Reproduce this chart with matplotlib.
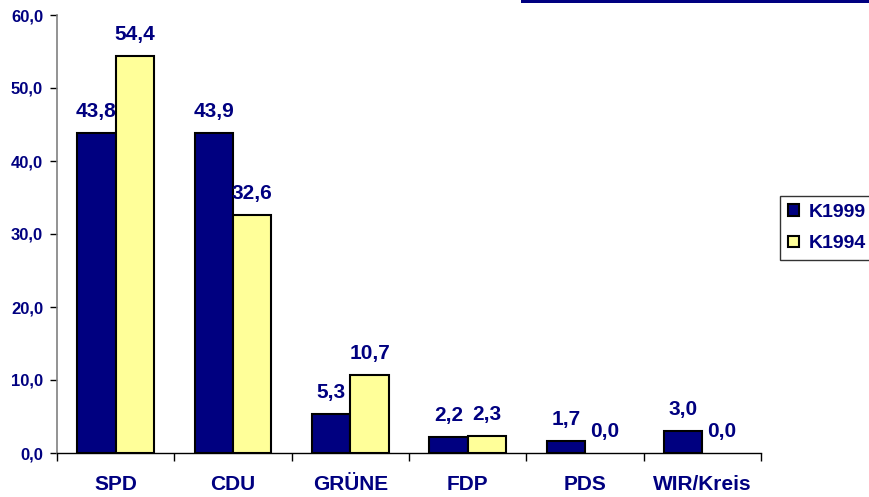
import matplotlib
matplotlib.use("Agg")
import matplotlib.pyplot as plt
import numpy as np
from matplotlib.patches import Rectangle

categories = ["SPD", "CDU", "GRÜNE", "FDP", "PDS", "WIR/Kreis"]
k1999 = [43.8, 43.9, 5.3, 2.2, 1.7, 3.0]
k1994 = [54.4, 32.6, 10.7, 2.3, 0.0, 0.0]
series_names = ["K1999", "K1994"]
yticks = [0, 10, 20, 30, 40, 50, 60]

NAVY = "#000080"
YELLOW = "#FFFF99"

plt.rcParams["font.family"] = ["Liberation Sans", "DejaVu Sans"]
plt.rcParams["font.weight"] = "bold"

W, H = 869, 497
fig = plt.figure(figsize=(W / 100, H / 100), dpi=100)
ax = fig.add_axes([57 / W, 44 / H, (761 - 57) / W, (453 - 15) / H])

x = np.arange(len(categories))
bw = 0.328
b1 = ax.bar(x - bw / 2, k1999, bw, color=NAVY, edgecolor="black", linewidth=1.5, label=series_names[0])
b2 = ax.bar(x + bw / 2, k1994, bw, color=YELLOW, edgecolor="black", linewidth=1.5, label=series_names[1])
for rect, v in zip(list(b1) + list(b2), k1999 + k1994):
    if v == 0:
        rect.set_linewidth(0)

for bars, vals in ((b1, k1999), (b2, k1994)):
    for rect, v in zip(bars, vals):
        ax.annotate(f"{v:.1f}".replace(".", ","),
                    (rect.get_x() + rect.get_width() / 2, v),
                    xytext=(0, 11.5), textcoords="offset points",
                    ha="center", va="baseline", fontsize=15, fontweight="bold",
                    color=NAVY)

ax.set_xlim(-0.5, len(categories) - 0.5)
ax.set_ylim(0, 60)
ax.set_yticks(yticks)
ax.set_yticklabels([f"{t:.1f}".replace(".", ",") for t in yticks],
                   fontsize=12, fontweight="bold", color=NAVY)
ax.tick_params(axis="y", direction="out", length=5, width=1, color="black", pad=5)

ax.set_xticks(x)
ax.set_xticklabels(categories, fontsize=15, fontweight="bold", color=NAVY)
ax.tick_params(axis="x", length=0, pad=16)
ax.set_xticks(np.arange(len(categories) + 1) - 0.5, minor=True)
ax.tick_params(axis="x", which="minor", direction="out", length=6, width=1, color="black")

for s in ("top", "right"):
    ax.spines[s].set_visible(False)
ax.spines["left"].set_color("#808080")
ax.spines["left"].set_linewidth(1.2)
ax.spines["bottom"].set_color("black")
ax.spines["bottom"].set_linewidth(1)

leg = fig.legend(handles=[b1, b2], labels=series_names,
                 loc="upper left", bbox_to_anchor=(780 / W, 1 - 196 / H),
                 frameon=True, fancybox=False, edgecolor="black",
                 prop={"size": 14, "weight": "bold"},
                 handlelength=0.57, handleheight=0.57, handletextpad=0.5,
                 borderpad=0.4, labelspacing=0.75, borderaxespad=0)
leg.get_frame().set_linewidth(1)
for t in leg.get_texts():
    t.set_color(NAVY)

fig.add_artist(Rectangle((521 / W, 1 - 3 / H), (W - 521) / W, 3 / H,
                         transform=fig.transFigure, facecolor=NAVY, edgecolor="none"))

fig.savefig("out.png", dpi=100)
